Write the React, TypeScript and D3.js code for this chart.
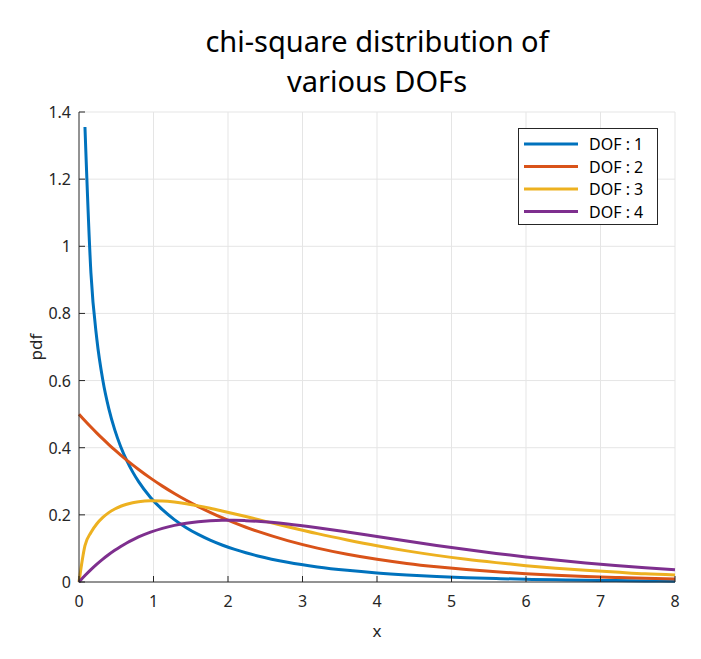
import * as d3 from 'd3';

const xs = [0, 0.08, 0.16, 0.24, 0.32, 0.4, 0.48, 0.56, 0.64, 0.72, 0.8, 0.96, 1.12, 1.28, 1.44, 1.6, 1.76, 1.92, 2.08, 2.24, 2.4, 2.8, 3.2, 3.6, 4.0, 4.4, 4.8, 5.2, 5.6, 6.0, 6.4, 6.8, 7.2, 7.6, 8.0];

// DOF 1 is undefined at x = 0, so it starts at the second sample
const dof1 = [NaN, 1.3552, 0.9207, 0.7223, 0.601, 0.5164, 0.453, 0.4029, 0.3621, 0.328, 0.299, 0.2519, 0.2153, 0.1859, 0.1618, 0.1417, 0.1247, 0.1102, 0.0978, 0.087, 0.0776, 0.0588, 0.045, 0.0348, 0.027, 0.0211, 0.0165, 0.013, 0.0103, 0.0081, 0.0064, 0.0051, 0.0041, 0.0032, 0.0026];
const dof2 = [0.5, 0.4804, 0.4616, 0.4435, 0.4261, 0.4094, 0.3933, 0.3779, 0.3631, 0.3488, 0.3352, 0.3094, 0.2856, 0.2636, 0.2434, 0.2247, 0.2074, 0.1914, 0.1767, 0.1631, 0.1506, 0.1233, 0.101, 0.0827, 0.0677, 0.0554, 0.0454, 0.0371, 0.0304, 0.0249, 0.0204, 0.0167, 0.0137, 0.0112, 0.0092];
const dof3 = [0, 0.1084, 0.1473, 0.1734, 0.1923, 0.2066, 0.2174, 0.2256, 0.2317, 0.2362, 0.2392, 0.2418, 0.2411, 0.238, 0.233, 0.2267, 0.2195, 0.2116, 0.2034, 0.1949, 0.1862, 0.1646, 0.144, 0.1253, 0.108, 0.0927, 0.0793, 0.0676, 0.0577, 0.0487, 0.041, 0.0347, 0.0295, 0.0243, 0.0208];
const dof4 = [0, 0.0192, 0.0369, 0.0532, 0.0682, 0.0819, 0.0944, 0.1058, 0.1162, 0.1256, 0.1341, 0.1485, 0.1599, 0.1687, 0.1752, 0.1797, 0.1825, 0.1838, 0.1838, 0.1827, 0.1807, 0.1726, 0.1615, 0.1488, 0.1353, 0.1219, 0.1089, 0.0966, 0.0851, 0.0747, 0.0652, 0.0567, 0.0492, 0.0425, 0.0366];

const seriesNames = ['DOF : 1', 'DOF : 2', 'DOF : 3', 'DOF : 4'];
const seriesColors = ['#0072BD', '#D95319', '#EDB120', '#7E2F8E'];
const xTicks = [0, 1, 2, 3, 4, 5, 6, 7, 8];
const yTicks = [0, 0.2, 0.4, 0.6, 0.8, 1, 1.2, 1.4];

const font = '"Noto Sans", "Noto Sans CJK KR", sans-serif';

export default function App() {
  const width = 701;
  const height = 659;
  const left = 79;
  const right = 675;
  const top = 112;
  const bottom = 582;

  const x = d3.scaleLinear().domain([0, 8]).range([left, right]);
  const y = d3.scaleLinear().domain([0, 1.4]).range([bottom, top]);

  const line = d3.line<number>()
    .defined(d => !isNaN(d))
    .x((_, i) => x(xs[i]))
    .y(d => y(d))
    .curve(d3.curveMonotoneX);

  const series = [dof1, dof2, dof3, dof4];

  return (
    <svg width={width} height={height} style={{ position: 'absolute', left: 0, top: 0, background: '#fff' }} fontFamily={font}>
      <rect width={width} height={height} fill="#fff" />
      <text x={377} y={52} textAnchor="middle" fontSize={29} fill="#000">chi-square distribution of</text>
      <text x={377} y={92} textAnchor="middle" fontSize={29} fill="#000">various DOFs</text>

      <g stroke="#e5e5e5" strokeWidth={1}>
        {xTicks.slice(1).map(t => (
          <line key={'gx' + t} x1={x(t)} x2={x(t)} y1={top} y2={bottom} />
        ))}
        {yTicks.slice(1).map(t => (
          <line key={'gy' + t} x1={left} x2={right} y1={y(t)} y2={y(t)} />
        ))}
      </g>

      <g clipPath="url(#clip)">
        {series.map((s, i) => (
          <path key={i} d={line(s) ?? ''} fill="none" stroke={seriesColors[i]} strokeWidth={3} strokeLinejoin="round" />
        ))}
      </g>
      <defs>
        <clipPath id="clip">
          <rect x={left - 2} y={top - 2} width={right - left + 4} height={bottom - top + 4} />
        </clipPath>
      </defs>

      <g stroke="#262626" strokeWidth={1}>
        <line x1={left} x2={left} y1={top} y2={bottom + 0.5} />
        <line x1={left} x2={right} y1={bottom} y2={bottom} />
        {xTicks.map(t => (
          <line key={'tx' + t} x1={x(t)} x2={x(t)} y1={bottom} y2={bottom - 6} />
        ))}
        {yTicks.map(t => (
          <line key={'ty' + t} x1={left} x2={left + 6} y1={y(t)} y2={y(t)} />
        ))}
      </g>
      <g fontSize={16} fill="#262626">
        {xTicks.map(t => (
          <text key={'lx' + t} x={x(t)} y={bottom + 25} textAnchor="middle">{t}</text>
        ))}
        {yTicks.map(t => (
          <text key={'ly' + t} x={left - 8} y={y(t) + 6} textAnchor="end">{t}</text>
        ))}
      </g>
      <text x={377} y={637} textAnchor="middle" fontSize={17} fill="#262626">x</text>
      <text transform="translate(42,347) rotate(-90)" textAnchor="middle" fontSize={17} fill="#262626">pdf</text>

      <g>
        <rect x={518.5} y={128.5} width={139} height={96} fill="#fff" stroke="#262626" strokeWidth={1} />
        {seriesNames.map((n, i) => (
          <g key={n} transform={`translate(0,${144 + i * 22.5})`}>
            <line x1={524} x2={578} y1={0} y2={0} stroke={seriesColors[i]} strokeWidth={3} />
            <text x={589} y={6} fontSize={16} fill="#000">{n}</text>
          </g>
        ))}
      </g>
    </svg>
  );
}
